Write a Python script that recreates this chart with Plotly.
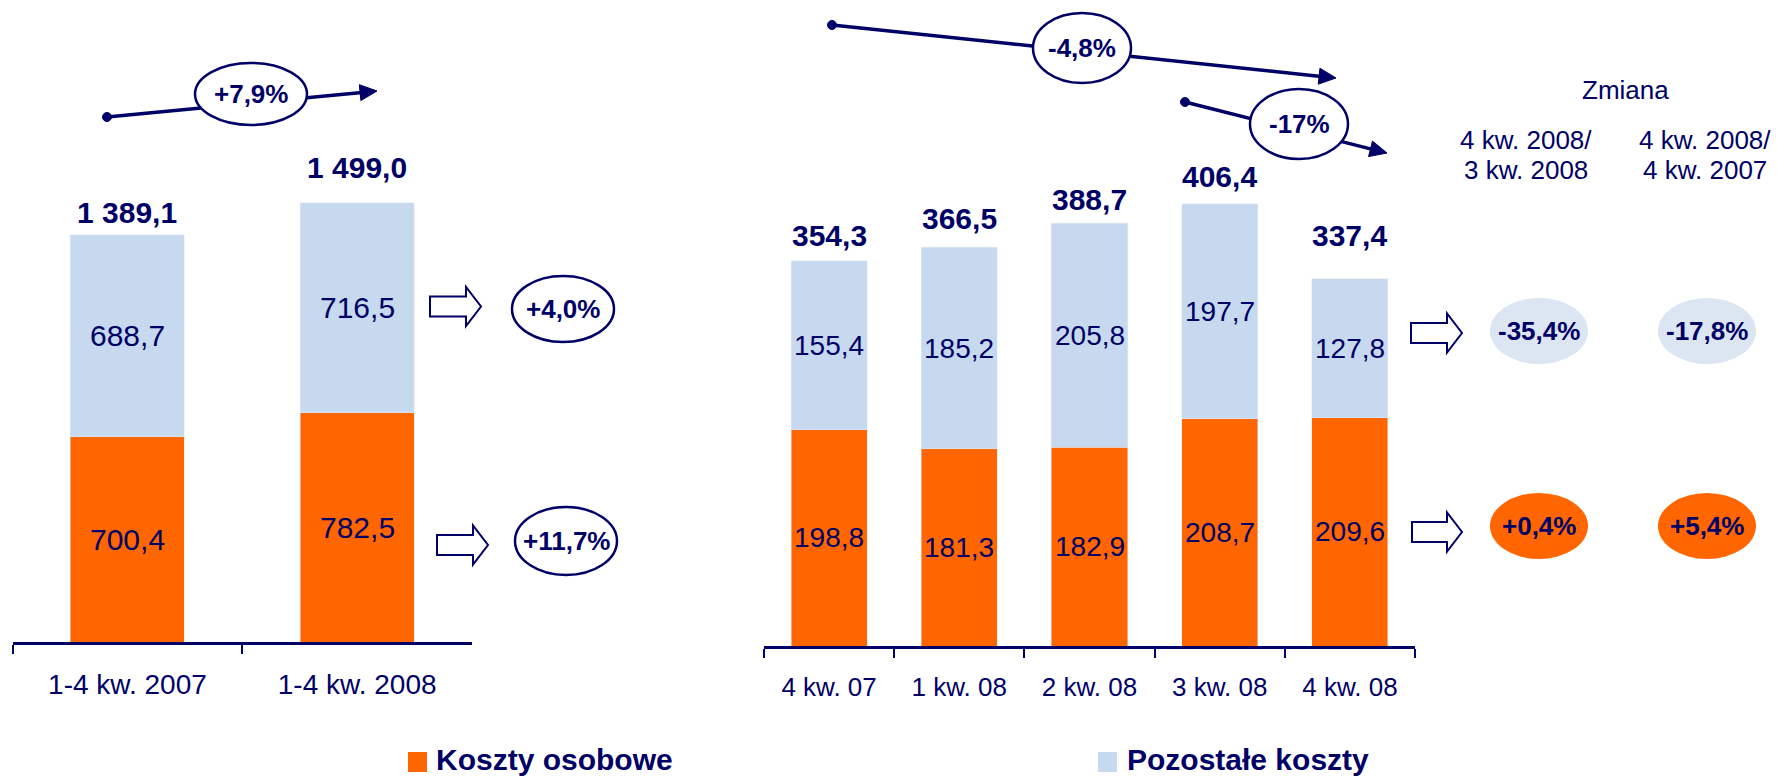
import numpy as np
import plotly.graph_objects as go

# ---------------- data ----------------
annual_categories = ["1-4 kw. 2007", "1-4 kw. 2008"]
annual_personnel = [700.4, 782.5]          # Koszty osobowe
annual_other = [688.7, 716.5]              # Pozostałe koszty
annual_totals = [1389.1, 1499.0]

quarter_categories = ["4 kw. 07", "1 kw. 08", "2 kw. 08", "3 kw. 08", "4 kw. 08"]
quarter_personnel = [198.8, 181.3, 182.9, 208.7, 209.6]
quarter_other = [155.4, 185.2, 205.8, 197.7, 127.8]
quarter_totals = [354.3, 366.5, 388.7, 406.4, 337.4]

annual_change_total = "+7,9%"
annual_change_other = "+4,0%"
annual_change_personnel = "+11,7%"
quarter_change_total_yoy = "-4,8%"
quarter_change_total_qoq = "-17%"

change_title = "Zmiana"
change_headers = [["4 kw. 2008/", "3 kw. 2008"], ["4 kw. 2008/", "4 kw. 2007"]]
change_other = ["-35,4%", "-17,8%"]
change_personnel = ["+0,4%", "+5,4%"]

legend_names = ["Koszty osobowe", "Pozostałe koszty"]

# ---------------- style ----------------
W, H = 1778, 778
NAVY = "#000066"
ORANGE = "#FF6600"
LIGHT = "#C6D9EE"
LIGHT2 = "#DCE6F2"
FONT = "Liberation Sans, Arial, Helvetica, sans-serif"

LEFT_BASE, LEFT_SCALE, LEFT_MAX = 642, 0.293, 1600
RIGHT_BASE, RIGHT_SCALE, RIGHT_MAX = 646, 1.088, 450
annual_total_lift = [22, 35]
quarter_total_lift = [25, 29, 24, 27, 43]


def fx(x):
    return x / W


def fy(y):
    return 1 - y / H


def fmt(v):
    return f"{v:,.1f}".replace(",", " ").replace(".", ",")


fig = go.Figure()
fig.add_bar(x=annual_categories, y=annual_personnel, marker_color=ORANGE, width=0.496,
            xaxis="x", yaxis="y", name=legend_names[0], showlegend=False, hoverinfo="skip")
fig.add_bar(x=annual_categories, y=annual_other, marker_color=LIGHT, width=0.496,
            xaxis="x", yaxis="y", name=legend_names[1], showlegend=False, hoverinfo="skip")
fig.add_bar(x=quarter_categories, y=quarter_personnel, marker_color=ORANGE, width=0.584,
            xaxis="x2", yaxis="y2", name=legend_names[0], showlegend=False, hoverinfo="skip")
fig.add_bar(x=quarter_categories, y=quarter_other, marker_color=LIGHT, width=0.584,
            xaxis="x2", yaxis="y2", name=legend_names[1], showlegend=False, hoverinfo="skip")

xcommon = dict(type="category", showline=True, linecolor=NAVY, linewidth=2.5, ticks="outside",
               tickson="boundaries", ticklen=9, tickwidth=2, tickcolor=NAVY,
               showgrid=False, zeroline=False, fixedrange=True)

fig.update_layout(
    width=W, height=H, autosize=False,
    margin=dict(l=0, r=0, t=0, b=0, pad=0),
    paper_bgcolor="white", plot_bgcolor="rgba(0,0,0,0)",
    barmode="stack", showlegend=False,
    font=dict(family=FONT, color=NAVY),
    xaxis=dict(domain=[fx(12.6), fx(472)], anchor="y",
               tickfont=dict(size=28, color=NAVY, family=FONT), ticklabelstandoff=16, **xcommon),
    yaxis=dict(domain=[fy(LEFT_BASE), fy(LEFT_BASE - LEFT_MAX * LEFT_SCALE)], range=[0, LEFT_MAX],
               visible=False, fixedrange=True),
    xaxis2=dict(domain=[fx(764), fx(1415)], anchor="y2",
                tickfont=dict(size=26, color=NAVY, family=FONT), ticklabelstandoff=16, **xcommon),
    yaxis2=dict(domain=[fy(RIGHT_BASE), fy(RIGHT_BASE - RIGHT_MAX * RIGHT_SCALE)], range=[0, RIGHT_MAX],
                visible=False, fixedrange=True),
)

annotations = []
# segment labels
for cats, pers, oth, xr, yr, size in [
    (annual_categories, annual_personnel, annual_other, "x", "y", 30),
    (quarter_categories, quarter_personnel, quarter_other, "x2", "y2", 28),
]:
    for c, p, o in zip(cats, pers, oth):
        annotations.append(dict(x=c, y=p / 2, xref=xr, yref=yr, text=fmt(p), showarrow=False,
                                font=dict(size=size, color=NAVY, family=FONT)))
        annotations.append(dict(x=c, y=p + o / 2, xref=xr, yref=yr, text=fmt(o), showarrow=False,
                                font=dict(size=size, color=NAVY, family=FONT)))
# totals
for c, t, lift in zip(annual_categories, annual_totals, annual_total_lift):
    annotations.append(dict(x=c, y=t, xref="x", yref="y", text=f"<b>{fmt(t)}</b>", showarrow=False,
                            yanchor="middle", yshift=lift, font=dict(size=30, color=NAVY, family=FONT)))
for c, t, lift in zip(quarter_categories, quarter_totals, quarter_total_lift):
    annotations.append(dict(x=c, y=t, xref="x2", yref="y2", text=f"<b>{fmt(t)}</b>", showarrow=False,
                            yanchor="middle", yshift=lift, font=dict(size=30, color=NAVY, family=FONT)))

shapes = []


def ellipse(cx, cy, rx, ry, fill, line_w=2.5, line_c=NAVY):
    shapes.append(dict(type="circle", xref="paper", yref="paper",
                       x0=fx(cx - rx), x1=fx(cx + rx), y0=fy(cy + ry), y1=fy(cy - ry),
                       fillcolor=fill, line=dict(width=line_w, color=line_c if line_w else "rgba(0,0,0,0)"),
                       layer="above"))


def label(cx, cy, text, size=26, bold=True):
    annotations.append(dict(x=fx(cx), y=fy(cy), xref="paper", yref="paper",
                            text=f"<b>{text}</b>" if bold else text, showarrow=False,
                            xanchor="center", yanchor="middle",
                            font=dict(size=size, color=NAVY, family=FONT)))


def path(points):
    d = "M " + " L ".join(f"{fx(x):.6f},{fy(y):.6f}" for x, y in points) + " Z"
    return d


def trend(x0, y0, x1, y1, ecx, ecy, rx, ry, text):
    v = np.array([x1 - x0, y1 - y0], dtype=float)
    L = np.hypot(*v)
    u = v / L
    n = np.array([-u[1], u[0]])
    head_len, head_w = 17, 8
    bx, by = np.array([x1, y1]) - u * head_len
    shapes.append(dict(type="line", xref="paper", yref="paper", x0=fx(x0), y0=fy(y0),
                       x1=fx(bx + u[0] * 2), y1=fy(by + u[1] * 2),
                       line=dict(color=NAVY, width=3.5), layer="above"))
    p1 = (bx + n[0] * head_w, by + n[1] * head_w)
    p2 = (bx - n[0] * head_w, by - n[1] * head_w)
    shapes.append(dict(type="path", xref="paper", yref="paper", path=path([(x1, y1), p1, p2]),
                       fillcolor=NAVY, line=dict(color=NAVY, width=1), layer="above"))
    r = 4.5
    shapes.append(dict(type="circle", xref="paper", yref="paper", x0=fx(x0 - r), x1=fx(x0 + r),
                       y0=fy(y0 + r), y1=fy(y0 - r), fillcolor=NAVY, line=dict(color=NAVY, width=1),
                       layer="above"))
    ellipse(ecx, ecy, rx, ry, "white")
    label(ecx, ecy, text)


def block_arrow(x0, x1, cy, shaft=10, head=19.5, head_len=15):
    xh = x1 - head_len
    pts = [(x0, cy - shaft), (xh, cy - shaft), (xh, cy - head), (x1, cy),
           (xh, cy + head), (xh, cy + shaft), (x0, cy + shaft)]
    shapes.append(dict(type="path", xref="paper", yref="paper", path=path(pts),
                       fillcolor="white", line=dict(color=NAVY, width=2), layer="above"))


# trend arrows over the charts
trend(107, 117, 377, 91, 251, 94, 56, 31, annual_change_total)
trend(832, 25, 1336, 78, 1082, 48, 49, 35, quarter_change_total_yoy)
trend(1185, 102, 1387, 153, 1299, 124, 49, 35, quarter_change_total_qoq)

# left chart side changes
block_arrow(430, 481, 306.5)
ellipse(563, 309, 51, 33, "white")
label(563, 309, annual_change_other)
block_arrow(437, 488, 545)
ellipse(566, 541, 51, 34, "white")
label(566, 541, annual_change_personnel)

# right chart side changes
block_arrow(1411, 1462, 333)
block_arrow(1412, 1462, 532)
for cx, t_o, t_p in zip([1539, 1707], change_other, change_personnel):
    ellipse(cx, 331, 49, 33, LIGHT2, line_w=0)
    label(cx, 331, t_o)
    ellipse(cx, 526, 49, 33, ORANGE, line_w=0)
    label(cx, 526, t_p)

label(1625, 90, change_title, size=26, bold=False)
for cx, (l1, l2) in zip([1526, 1705], change_headers):
    label(cx, 140, l1, size=26, bold=False)
    label(cx, 170, l2, size=26, bold=False)

# legend
for (sx, tx), color, name in zip([(408, 435), (1098, 1126)], [ORANGE, LIGHT], legend_names):
    shapes.append(dict(type="rect", xref="paper", yref="paper", x0=fx(sx), x1=fx(sx + 19),
                       y0=fy(772), y1=fy(752), fillcolor=color, line=dict(width=0)))
    annotations.append(dict(x=fx(tx), y=fy(759), xref="paper", yref="paper", text=f"<b>{name}</b>",
                            showarrow=False, xanchor="left", yanchor="middle", borderpad=0,
                            font=dict(size=30, color=NAVY, family=FONT)))

fig.update_layout(annotations=annotations, shapes=shapes)
fig.write_html(
    "out.html",
    config={"displayModeBar": False},
    post_script="document.body.style.margin='0';document.body.style.overflow='hidden';",
)
